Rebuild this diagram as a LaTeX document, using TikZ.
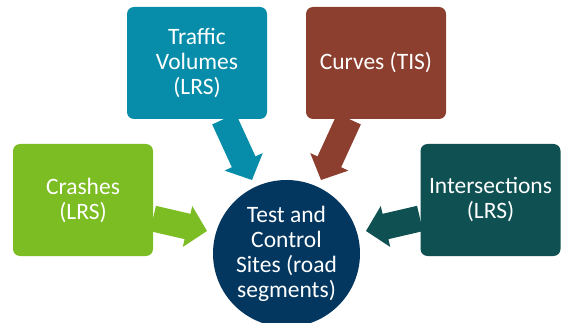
\documentclass[tikz,border=0pt]{standalone}
\usepackage{fontspec}
\setmainfont{Carlito}
\usetikzlibrary{calc}
\definecolor{cgreen}{HTML}{7BBD23}
\definecolor{cteal}{HTML}{078DA9}
\definecolor{cbrown}{HTML}{8C3F2E}
\definecolor{cdark}{HTML}{0F5153}
\definecolor{cnavy}{HTML}{03375F}
\tikzset{
  box/.style={rectangle, rounded corners=7pt, minimum width=140pt, minimum height=112pt,
    inner sep=0pt, text=white, align=center, font=\fontsize{23.5}{25}\selectfont},
  hub/.style={circle, minimum size=147pt, inner sep=0pt, fill=cnavy, text=white,
    align=center, font=\fontsize{23.5}{25}\selectfont}
}
\newcommand\blockarr[3]{%
  \path coordinate (hb) at ($(#2)!20pt!(#1)$);
  \fill[#3] ($(#1)!13pt!90:(#2)$) -- ($(hb)!13pt!90:(#2)$) -- ($(hb)!21pt!90:(#2)$)
    -- (#2) -- ($(hb)!21pt!-90:(#2)$) -- ($(hb)!13pt!-90:(#2)$) -- ($(#1)!13pt!-90:(#2)$) -- cycle;
}
\begin{document}
\begin{tikzpicture}[x=1pt,y=-1pt]
\useasboundingbox (0,0) rectangle (562,323);
\clip (0,0) rectangle (562,323);
\node[hub] (hub) at (286.5,253.5) {Test and\\Control\\Sites (road\\segments)};
\node[box, fill=cgreen] (crash) at (83,200) {Crashes\\(LRS)};
\node[box, fill=cteal] (traffic) at (197,63) {Traffic\\Volumes\\(LRS)};
\node[box, fill=cbrown] (curves) at (376,63) {Curves (TIS)};
\node[box, fill=cdark] (inter) at (490.5,200) {Intersections\\(LRS)};
\coordinate (crashT) at (153,218.5);
\coordinate (crashP) at (207,231);
\coordinate (trafT) at (224,119);
\coordinate (trafP) at (252,180);
\coordinate (curvT) at (349,119);
\coordinate (curvP) at (321,180);
\coordinate (interT) at (420,218.5);
\coordinate (interP) at (366,231);
\blockarr{crashT}{crashP}{cgreen}
\blockarr{trafT}{trafP}{cteal}
\blockarr{curvT}{curvP}{cbrown}
\blockarr{interT}{interP}{cdark}
\end{tikzpicture}
\end{document}
